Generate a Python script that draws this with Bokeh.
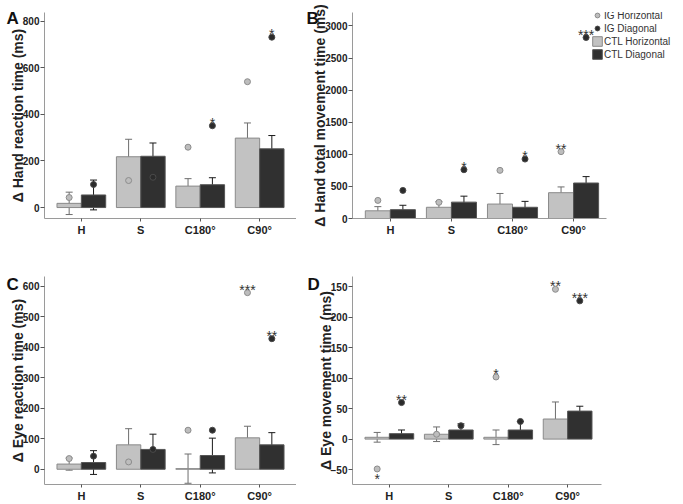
from bokeh.plotting import figure
from bokeh.models import (ColumnDataSource, Range1d, FixedTicker, Whisker, TeeHead,
                          Label, Legend, LegendItem)
from bokeh.layouts import row, column
from bokeh.embed import file_html
from bokeh.resources import INLINE
from bokeh.core.properties import value

# ---------------- data ----------------
categories = ["H", "S", "C180°", "C90°"]

# Panel A: hand reaction time
a_ctl_h = [18, 218, 92, 298]
a_ctl_h_err = [48, 75, 32, 65]
a_ctl_d = [54, 220, 98, 252]
a_ctl_d_err = [64, 57, 30, 57]
a_ig_h = [43, 116, 259, 540]
a_ig_d = [99, 130, 351, 731]
a_ig_h_sig = ["", "", "", ""]
a_ig_d_sig = ["", "", "*", "*"]
a_ticks = [0, 200, 400, 600, 800]

# Panel B: hand total movement time
b_ctl_h = [120, 175, 225, 402]
b_ctl_h_err = [65, 88, 165, 90]
b_ctl_d = [138, 255, 175, 553]
b_ctl_d_err = [68, 93, 92, 100]
b_ig_h = [282, 252, 750, 1042]
b_ig_d = [438, 760, 926, 2820]
b_ig_h_sig = ["", "", "", "**"]
b_ig_d_sig = ["", "*", "*", "***"]
b_ticks = [0, 500, 1000, 1500, 2000, 2500, 3000]

# Panel C: eye reaction time
c_ctl_h = [17, 80, 2, 103]
c_ctl_h_err = [20, 53, 48, 38]
c_ctl_d = [22, 65, 45, 80]
c_ctl_d_err = [39, 50, 57, 40]
c_ig_h = [35, 24, 128, 579]
c_ig_d = [43, 65, 128, 428]
c_ig_h_sig = ["", "", "", "***"]
c_ig_d_sig = ["", "", "", "**"]
c_ticks = [0, 100, 200, 300, 400, 500, 600]

# Panel D: eye movement time
d_ctl_h = [3, 8, 3, 33]
d_ctl_h_err = [8, 12, 12, 28]
d_ctl_d = [9, 15, 15, 46]
d_ctl_d_err = [6, 10, 14, 8]
d_ig_h = [-49, 8, 102, 246]
d_ig_d = [60, 22, 29, 227]
d_ig_h_sig = ["*", "", "*", "**"]
d_ig_d_sig = ["**", "", "", "***"]
d_ticks = [-50, 0, 50, 100, 150, 200, 250]
d_tick_overrides = {250: "150"}   # the top tick is printed "150" in the original figure

legend_names = ["IG Horizontal", "IG Diagonal", "CTL Horizontal", "CTL Diagonal"]

# ---------------- style ----------------
FONT = "Liberation Sans"
LIGHT = "#c2c2c2"
DARK = "#303030"
BAR_LINE = "#8a8a8a"
TEXT = "#222222"
BW = 0.41
OFF = 0.205


def panel(letter, ylabel, ctl_h, ctl_h_err, ctl_d, ctl_d_err, ig_h, ig_d, sig_h, sig_d,
          ticks, yr, xr, width, height, mb, letter_xy, overrides=None, xbounds=None,
          margin=None):
    idx = list(range(len(categories)))
    xh = [i - OFF for i in idx]
    xd = [i + OFF for i in idx]
    src = ColumnDataSource(dict(
        xh=xh, xd=xd, ctl_h=ctl_h, ctl_d=ctl_d,
        h_lo=[m - e for m, e in zip(ctl_h, ctl_h_err)],
        h_hi=[m + e for m, e in zip(ctl_h, ctl_h_err)],
        d_lo=[m - e for m, e in zip(ctl_d, ctl_d_err)],
        d_hi=[m + e for m, e in zip(ctl_d, ctl_d_err)],
        ig_h=ig_h, ig_d=ig_d,
    ))
    p = figure(width=width, height=height, output_backend="svg", toolbar_location=None,
               x_range=Range1d(*xr), y_range=Range1d(*yr),
               min_border_left=mb[0], min_border_right=mb[1],
               min_border_top=mb[2], min_border_bottom=mb[3])
    if margin is not None:
        p.margin = margin
    p.grid.visible = False
    p.outline_line_color = None
    p.background_fill_color = None
    p.border_fill_color = None

    r_ch = p.vbar(x="xh", top="ctl_h", bottom=0, width=BW, source=src,
                  fill_color=LIGHT, line_color=BAR_LINE, line_width=1)
    r_cd = p.vbar(x="xd", top="ctl_d", bottom=0, width=BW, source=src,
                  fill_color=DARK, line_color="#555555", line_width=1)

    p.add_layout(Whisker(source=src, base="xh", lower="h_lo", upper="h_hi",
                         line_color="#6e6e6e", line_width=1,
                         upper_head=TeeHead(size=7, line_color="#6e6e6e", line_width=1),
                         lower_head=TeeHead(size=7, line_color="#6e6e6e", line_width=1)))
    p.add_layout(Whisker(source=src, base="xd", lower="d_lo", upper="d_hi",
                         line_color="#1a1a1a", line_width=1,
                         upper_head=TeeHead(size=7, line_color="#1a1a1a", line_width=1),
                         lower_head=TeeHead(size=7, line_color="#1a1a1a", line_width=1)))

    r_ih = p.scatter(x="xh", y="ig_h", source=src, size=6, marker="circle",
                     fill_color="#bdbdbd", line_color="#8c8c8c", line_width=1)
    r_id = p.scatter(x="xd", y="ig_d", source=src, size=6, marker="circle",
                     fill_color="#2b2b2b", line_color="#4a4a4a", line_width=1)

    # significance stars (above the point, or below it for negative values)
    sx, sy, st, so = [], [], [], []
    for xs, vals, sigs in ((xh, ig_h, sig_h), (xd, ig_d, sig_d)):
        for x, v, s in zip(xs, vals, sigs):
            if s:
                sx.append(x); sy.append(v); st.append(s)
                so.append(10 if v < 0 else -3)
    ssrc = ColumnDataSource(dict(x=sx, y=sy, t=st, o=so))
    p.text(x="x", y="y", text="t", y_offset="o", source=ssrc, text_align="center",
           text_baseline="alphabetic", text_font=value(FONT), text_font_size="14px",
           text_color="#333333")

    # axes
    p.xaxis.ticker = FixedTicker(ticks=idx)
    p.xaxis.major_label_overrides = {i: c for i, c in zip(idx, categories)}
    if xbounds:
        p.xaxis.bounds = xbounds
    p.yaxis.ticker = FixedTicker(ticks=ticks)
    if overrides:
        p.yaxis.major_label_overrides = overrides
    for ax in (p.xaxis[0], p.yaxis[0]):
        ax.axis_line_color = "#9a9a9a"
        ax.axis_line_width = 1
        ax.major_tick_line_color = "#555555"
        ax.minor_tick_line_color = None
        ax.major_tick_in = 0
        ax.major_label_text_font = FONT
        ax.major_label_text_font_style = "bold"
        ax.major_label_text_color = TEXT
    p.xaxis.major_tick_out = 3
    p.xaxis.major_label_standoff = 2
    p.xaxis.major_label_text_font_size = "11px"
    p.yaxis.major_tick_out = 4
    p.yaxis.major_label_standoff = 1
    p.yaxis.major_label_text_font_size = "10px"
    p.yaxis.axis_label = ylabel
    p.yaxis.axis_label_text_font = FONT
    p.yaxis.axis_label_text_font_style = "bold"
    p.yaxis.axis_label_text_font_size = "14px"
    p.yaxis.axis_label_text_color = TEXT
    p.yaxis.axis_label_standoff = -6

    # panel letter, placed in the left side panel (outside the y-axis label)
    p.add_layout(Label(x=letter_xy[0], y=letter_xy[1], x_units="screen", y_units="screen",
                       text=letter, text_font=FONT, text_font_style="bold",
                       text_font_size="17px", text_color="#111111",
                       text_baseline="alphabetic"), "left")
    return p, (r_ih, r_id, r_ch, r_cd)


# px per category unit ~59.4; every frame starts at x = -0.62
pA, _ = panel("A", "Δ Hand reaction time (ms)", a_ctl_h, a_ctl_h_err, a_ctl_d, a_ctl_d_err,
              a_ig_h, a_ig_d, a_ig_h_sig, a_ig_d_sig, a_ticks, (-47, 837), (-0.62, 3.62),
              305, 258, (53, 0, 12, 40), (12, 200), margin=(0, 0, 0, -9))
pB, rs = panel("B", "Δ Hand total movement time (ms)", b_ctl_h, b_ctl_h_err, b_ctl_d, b_ctl_d_err,
               b_ig_h, b_ig_d, b_ig_h_sig, b_ig_d_sig, b_ticks, (0, 3210), (-0.62, 4.80),
               387, 258, (56, 0, 6, 40), (9, 200), xbounds=(-0.62, 3.54))
pC, _ = panel("C", "Δ Eye reaction time (ms)", c_ctl_h, c_ctl_h_err, c_ctl_d, c_ctl_d_err,
              c_ig_h, c_ig_d, c_ig_h_sig, c_ig_d_sig, c_ticks, (-50, 632), (-0.62, 3.62),
              305, 246, (53, 0, 18, 20), (12, 200), margin=(0, 0, 0, -9))
pD, _ = panel("D", "Δ Eye movement time (ms)", d_ctl_h, d_ctl_h_err, d_ctl_d, d_ctl_d_err,
              d_ig_h, d_ig_d, d_ig_h_sig, d_ig_d_sig, d_ticks, (-74.5, 267), (-0.62, 3.57),
              387, 246, (56, 82, 18, 20), (5, 200), overrides=d_tick_overrides)

legend = Legend(items=[LegendItem(label=n, renderers=[r]) for n, r in zip(legend_names, rs)],
                location=(239, 158), orientation="vertical",
                label_text_font=FONT, label_text_font_size="10px", label_text_color="#333333",
                glyph_width=12, glyph_height=12, label_height=12, spacing=1,
                label_standoff=1, padding=0, margin=0,
                border_line_color=None, background_fill_alpha=0)
pB.add_layout(legend, "center")

layout = column(row(pA, pB), row(pC, pD))
open("out.html", "w").write(file_html(layout, INLINE))
